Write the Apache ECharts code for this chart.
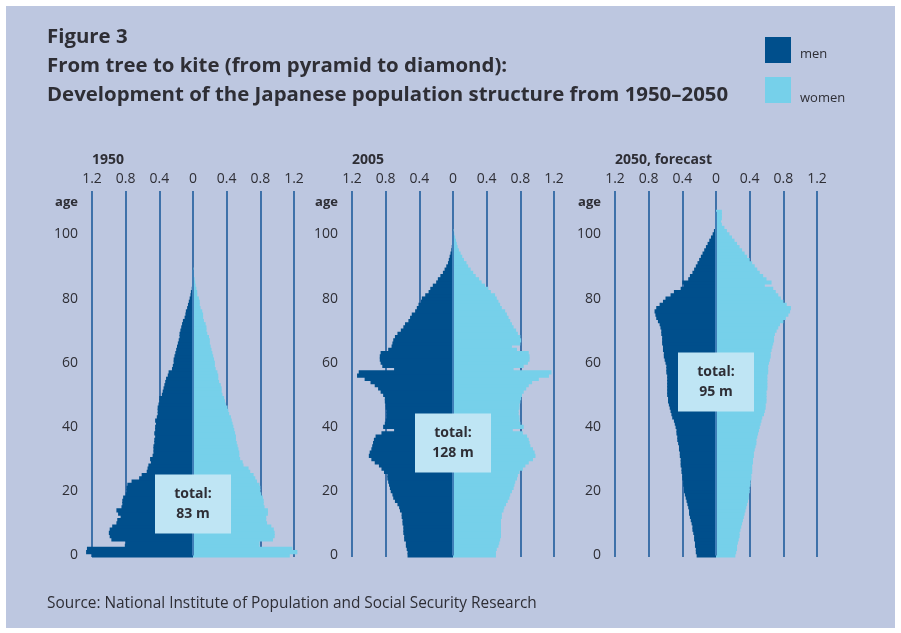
<!DOCTYPE html>
<html>
<head>
<meta charset="utf-8">
<script src="https://cdn.jsdelivr.net/npm/echarts@6/dist/echarts.min.js"></script>
<style>
  html, body { margin: 0; padding: 0; background: #ffffff; }
  #chart { width: 901px; height: 633px; }
</style>
</head>
<body>
<div id="chart"></div>
<script>
// population per single year of age, millions (men drawn to the left)
const men1950 = [1.20, 1.27, 1.26, 0.81, 0.80, 0.97, 0.99, 1.00, 0.99, 0.96,
  0.91, 0.90, 0.86, 0.89, 0.91, 0.85, 0.84, 0.84, 0.83, 0.80,
  0.79, 0.79, 0.78, 0.73, 0.64, 0.61, 0.55, 0.54, 0.53, 0.50,
  0.51, 0.48, 0.47, 0.47, 0.47, 0.46, 0.46, 0.45, 0.46, 0.45,
  0.45, 0.44, 0.45, 0.43, 0.42, 0.42, 0.42, 0.41, 0.40, 0.40,
  0.37, 0.36, 0.35, 0.34, 0.33, 0.32, 0.30, 0.29, 0.25, 0.24,
  0.23, 0.23, 0.22, 0.21, 0.20, 0.19, 0.18, 0.17, 0.16, 0.16,
  0.15, 0.14, 0.13, 0.12, 0.10, 0.09, 0.085, 0.07, 0.06, 0.05,
  0.04, 0.03, 0.025, 0.015, 0.01, 0.005];
const women1950 = [1.15, 1.24, 1.18, 0.79, 0.79, 0.95, 0.97, 0.97, 0.96, 0.93,
  0.88, 0.87, 0.87, 0.89, 0.89, 0.85, 0.84, 0.84, 0.83, 0.81,
  0.80, 0.80, 0.79, 0.76, 0.74, 0.72, 0.68, 0.66, 0.60, 0.59,
  0.56, 0.55, 0.55, 0.54, 0.53, 0.52, 0.51, 0.51, 0.50, 0.49,
  0.48, 0.47, 0.46, 0.45, 0.43, 0.42, 0.41, 0.39, 0.38, 0.37,
  0.35, 0.34, 0.34, 0.33, 0.31, 0.30, 0.30, 0.29, 0.27, 0.26,
  0.26, 0.25, 0.24, 0.23, 0.22, 0.21, 0.20, 0.20, 0.19, 0.17,
  0.16, 0.16, 0.15, 0.13, 0.12, 0.12, 0.11, 0.09, 0.08, 0.08,
  0.07, 0.05, 0.05, 0.04, 0.03, 0.025, 0.02, 0.01, 0.008, 0.005];
const men2005 = [0.54, 0.54, 0.55, 0.56, 0.56, 0.58, 0.58, 0.59, 0.59, 0.59,
  0.60, 0.60, 0.61, 0.61, 0.63, 0.64, 0.66, 0.69, 0.71, 0.72,
  0.74, 0.75, 0.76, 0.77, 0.78, 0.78, 0.82, 0.85, 0.88, 0.93,
  0.97, 1.00, 0.99, 0.97, 0.96, 0.95, 0.94, 0.92, 0.85, 0.70,
  0.83, 0.81, 0.80, 0.79, 0.79, 0.79, 0.80, 0.80, 0.81, 0.81,
  0.83, 0.86, 0.89, 0.93, 0.98, 1.05, 1.14, 1.12, 0.70, 0.84,
  0.86, 0.87, 0.87, 0.86, 0.77, 0.73, 0.72, 0.71, 0.69, 0.66,
  0.62, 0.59, 0.57, 0.53, 0.51, 0.49, 0.45, 0.43, 0.41, 0.38,
  0.37, 0.33, 0.29, 0.27, 0.24, 0.20, 0.18, 0.15, 0.12, 0.10,
  0.08, 0.06, 0.05, 0.04, 0.03, 0.02, 0.015, 0.01, 0.007, 0.005];
const women2005 = [0.51, 0.51, 0.52, 0.54, 0.55, 0.56, 0.57, 0.57, 0.57, 0.57,
  0.57, 0.57, 0.58, 0.58, 0.60, 0.61, 0.63, 0.65, 0.67, 0.68,
  0.70, 0.72, 0.73, 0.74, 0.76, 0.77, 0.79, 0.83, 0.86, 0.90,
  0.95, 0.98, 0.97, 0.95, 0.92, 0.91, 0.90, 0.88, 0.83, 0.71,
  0.84, 0.80, 0.79, 0.79, 0.78, 0.78, 0.79, 0.79, 0.80, 0.81,
  0.82, 0.84, 0.87, 0.90, 0.94, 1.02, 1.14, 1.17, 0.72, 0.84,
  0.89, 0.91, 0.91, 0.90, 0.76, 0.70, 0.80, 0.81, 0.80, 0.77,
  0.75, 0.72, 0.70, 0.68, 0.66, 0.64, 0.62, 0.58, 0.56, 0.54,
  0.52, 0.50, 0.45, 0.42, 0.38, 0.34, 0.31, 0.27, 0.24, 0.21,
  0.18, 0.16, 0.13, 0.11, 0.09, 0.07, 0.055, 0.045, 0.035, 0.025,
  0.015, 0.005];
const men2050 = [0.23, 0.24, 0.24, 0.25, 0.25, 0.26, 0.26, 0.27, 0.28, 0.28,
  0.29, 0.30, 0.31, 0.32, 0.32, 0.33, 0.34, 0.35, 0.36, 0.37,
  0.38, 0.38, 0.39, 0.39, 0.40, 0.40, 0.41, 0.41, 0.42, 0.42,
  0.42, 0.43, 0.43, 0.44, 0.44, 0.45, 0.46, 0.46, 0.47, 0.47,
  0.48, 0.49, 0.50, 0.52, 0.53, 0.54, 0.55, 0.56, 0.57, 0.57,
  0.58, 0.58, 0.58, 0.58, 0.58, 0.58, 0.58, 0.59, 0.59, 0.59,
  0.60, 0.61, 0.62, 0.62, 0.63, 0.63, 0.64, 0.64, 0.64, 0.65,
  0.65, 0.66, 0.67, 0.69, 0.71, 0.72, 0.73, 0.71, 0.67, 0.63,
  0.60, 0.54, 0.50, 0.42, 0.38, 0.40, 0.33, 0.31, 0.28, 0.26,
  0.24, 0.22, 0.20, 0.18, 0.16, 0.14, 0.12, 0.10, 0.08, 0.06,
  0.04, 0.025, 0.01, 0.005, 0.003];
const women2050 = [0.23, 0.24, 0.25, 0.25, 0.26, 0.27, 0.28, 0.28, 0.29, 0.30,
  0.31, 0.32, 0.33, 0.34, 0.35, 0.36, 0.37, 0.38, 0.39, 0.39,
  0.40, 0.40, 0.41, 0.41, 0.42, 0.42, 0.43, 0.43, 0.43, 0.44,
  0.44, 0.45, 0.45, 0.46, 0.47, 0.48, 0.48, 0.49, 0.50, 0.51,
  0.52, 0.53, 0.54, 0.55, 0.57, 0.58, 0.59, 0.59, 0.60, 0.60,
  0.60, 0.60, 0.61, 0.61, 0.61, 0.61, 0.61, 0.62, 0.62, 0.62,
  0.63, 0.64, 0.65, 0.65, 0.66, 0.67, 0.68, 0.69, 0.69, 0.70,
  0.72, 0.74, 0.76, 0.80, 0.83, 0.86, 0.88, 0.89, 0.84, 0.80,
  0.77, 0.74, 0.71, 0.68, 0.58, 0.66, 0.60, 0.56, 0.52, 0.49,
  0.46, 0.43, 0.40, 0.37, 0.34, 0.31, 0.28, 0.25, 0.22, 0.19,
  0.16, 0.13, 0.10, 0.07, 0.06, 0.07, 0.07, 0.07];

const panelTitles = ["1950", "2005", "2050, forecast"];
const totals = ["83 m", "128 m", "95 m"];
const totalBoxAge = [16, 35, 54];
const ageTicks = [0, 20, 40, 60, 80, 100];
const ageLabelRow = 110; // row used for the "age" heading
const ages = Array.from({ length: 114 }, (_, i) => String(i));

const menColor = "#004f8c";
const womenColor = "#76d0ea";
const lineColor = "#1f5c9c";
const textColor = "#2e2e35";
const font = "Open Sans";

const panelLeft = [92, 352, 615];
const gridTop = 191;
const gridHeight = 366;
const gridWidth = 202;

const panels = [
  { men: men1950, women: women1950 },
  { men: men2005, women: women2005 },
  { men: men2050, women: women2050 },
];

const grids = [];
const xAxes = [];
const yAxes = [];
const series = [];
const titles = [
  {
    text: "Figure 3\nFrom tree to kite (from pyramid to diamond):\nDevelopment of the Japanese population structure from 1950\u20132050",
    left: 42,
    top: 18,
    textStyle: { fontFamily: font, fontSize: 20.4, fontWeight: "bold", lineHeight: 29, color: textColor },
  },
  {
    text: "Source: National Institute of Population and Social Security Research",
    left: 42,
    top: 591,
    textStyle: { fontFamily: font, fontSize: 15.4, fontWeight: "normal", color: textColor },
  },
];

panels.forEach((p, i) => {
  grids.push({ left: panelLeft[i], top: gridTop, width: gridWidth, height: gridHeight });
  titles.push({
    text: panelTitles[i],
    left: panelLeft[i] - 5,
    top: 148,
    textStyle: { fontFamily: font, fontSize: 14, fontWeight: "bold", color: textColor },
  });
  xAxes.push({
    gridIndex: i,
    type: "value",
    position: "top",
    min: -1.2,
    max: 1.2,
    interval: 0.4,
    axisLine: { show: false },
    axisTick: { show: false },
    axisLabel: {
      margin: 5,
      fontFamily: font,
      fontSize: 14,
      color: textColor,
      showMinLabel: true,
      showMaxLabel: true,
      formatter: (v) => String(Math.round(Math.abs(v) * 10) / 10),
    },
    splitLine: { show: true, lineStyle: { color: lineColor, width: 1.6 } },
  });
  yAxes.push({
    gridIndex: i,
    type: "category",
    data: ages,
    axisLine: { show: false },
    axisTick: { show: false },
    splitLine: { show: false },
    axisLabel: {
      margin: 14,
      fontFamily: font,
      fontSize: 14,
      color: textColor,
      interval: (idx) => ageTicks.includes(idx) || idx === ageLabelRow,
      formatter: (v, idx) => (idx === ageLabelRow ? "{b|age}" : v),
      rich: { b: { fontFamily: font, fontSize: 13, fontWeight: "bold", color: textColor } },
    },
  });
  const top = Math.max(p.men.length, p.women.length) - 1;
  series.push({
    name: "men",
    type: "bar",
    xAxisIndex: i,
    yAxisIndex: i,
    stack: "p" + i,
    barWidth: 4.2,
    clip: false,
    silent: true,
    itemStyle: { color: menColor },
    data: p.men.map((v) => -v),
  });
  series.push({
    name: "women",
    type: "bar",
    xAxisIndex: i,
    yAxisIndex: i,
    stack: "p" + i,
    barWidth: 4.2,
    clip: false,
    silent: true,
    itemStyle: { color: womenColor },
    data: p.women,
    markLine: {
      silent: true,
      symbol: "none",
      label: { show: false },
      lineStyle: { color: "#3f7fb8", width: 2, type: "solid" },
      data: [[{ coord: [0, 0] }, { coord: [0, top] }]],
    },
    markPoint: {
      silent: true,
      symbol: "rect",
      symbolSize: [76, 59],
      itemStyle: { color: "#bfe5f4" },
      label: {
        show: true,
        position: "inside",
        fontFamily: font,
        fontSize: 14,
        fontWeight: "bold",
        lineHeight: 20,
        color: textColor,
        formatter: () => "total:\n" + totals[i],
      },
      data: [{ coord: [0, totalBoxAge[i]] }],
    },
  });
});

const chart = echarts.init(document.getElementById("chart"));
chart.setOption({
  backgroundColor: "transparent",
  animation: false,
  title: titles,
  graphic: [
    {
      type: "rect",
      z: -10,
      shape: { x: 6, y: 6, width: 889, height: 622 },
      style: { fill: "#bdc7e0" },
    },
  ],
  legend: {
    left: 760,
    top: 32,
    orient: "vertical",
    icon: "rect",
    itemWidth: 26,
    itemHeight: 26,
    itemGap: 14,
    selectedMode: false,
    formatter: (name) => (name === "women" ? "{w|women}" : "{t|men}"),
    textStyle: {
      fontFamily: font,
      fontSize: 13,
      color: textColor,
      rich: {
        t: { fontFamily: font, fontSize: 13, color: textColor, padding: [8, 0, 0, 4] },
        w: { fontFamily: font, fontSize: 13, color: textColor, padding: [16, 0, 0, 4] },
      },
    },
    data: ["men", "women"],
  },
  grid: grids,
  xAxis: xAxes,
  yAxis: yAxes,
  series: series,
});
</script>
</body>
</html>
